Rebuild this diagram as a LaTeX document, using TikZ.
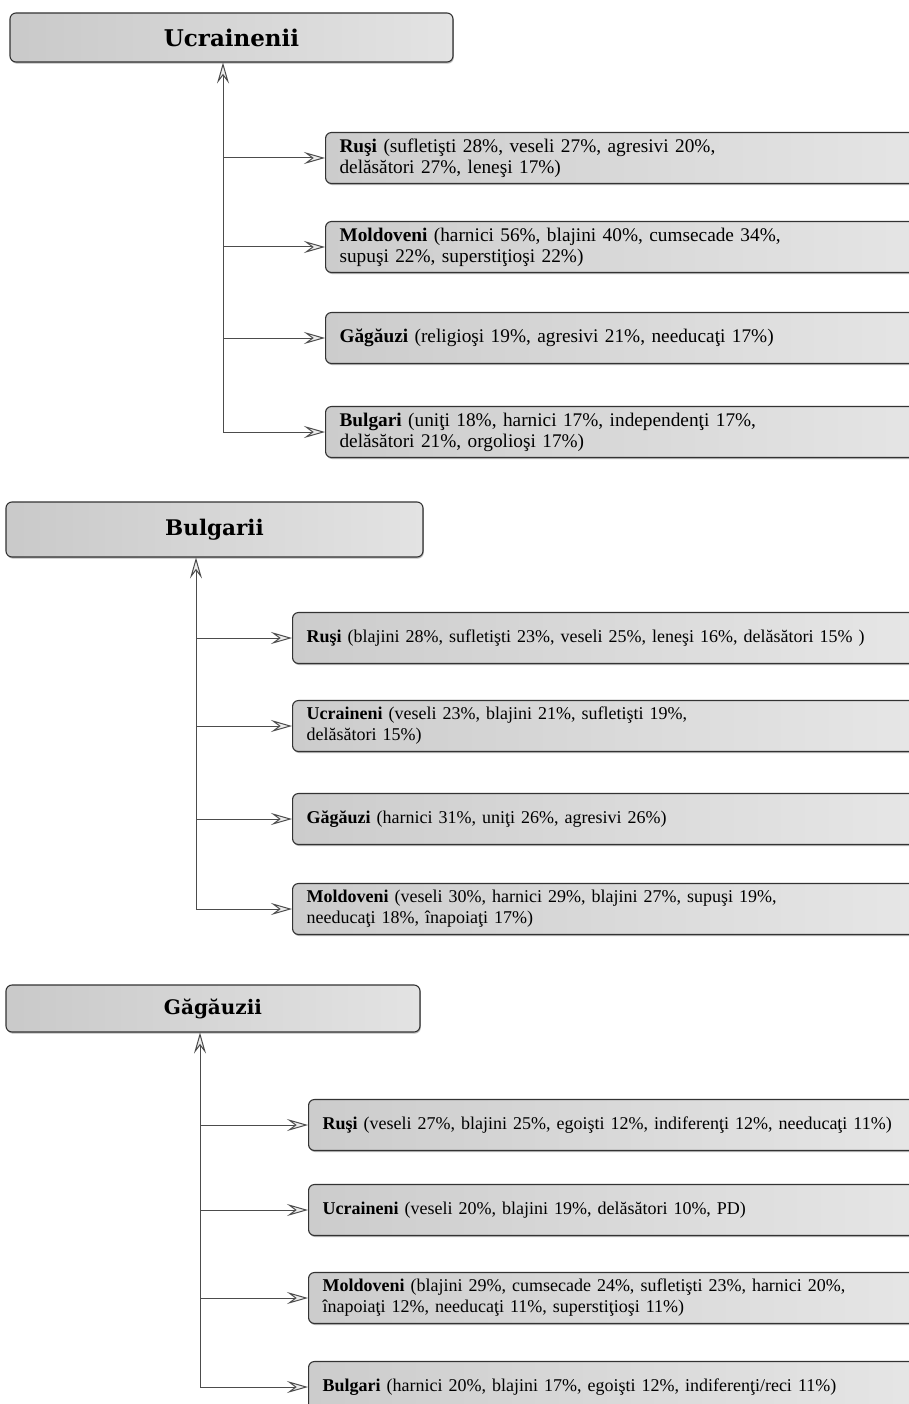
\documentclass[tikz,border=0pt]{standalone}
\usepackage{fontspec}
\setmainfont{Liberation Serif}
\newfontfamily\headfont{DejaVu Serif}
\usetikzlibrary{arrows.meta,shadows}

\begin{document}
\begin{tikzpicture}[x = 1pt, y = -1pt,
	head/.style = {draw = black!80, line width = 1.1pt, rounded corners = 6pt, left color = gray!42, right color = gray!22, inner sep = 0pt,
		font = \headfont\bfseries\fontsize{20}{24}\selectfont, drop shadow = {shadow xshift = 0.8pt, shadow yshift = -1.6pt, opacity = 0.55}},
	kind/.style = {draw = black!80, line width = 1.1pt, rounded corners = 6pt, left color = gray!40, right color = gray!18, anchor = west,
		text width = 640pt, minimum height = 51pt, inner xsep = 14pt, align = left, font = \fontsize{18}{21}\selectfont,
		drop shadow = {shadow xshift = 0.8pt, shadow yshift = -1.6pt, opacity = 0.55}},
	big/.style = {font = \fontsize{19.3}{21}\selectfont},
	link/.style = {->, draw = black!70, line width = 1pt},
	>={Stealth[length = 21pt, width = 12pt, inset = 8pt, fill = gray!15, line width = 1pt]}]
				\useasboundingbox (0,0) rectangle (909,1404);
				\clip (0,0) rectangle (909,1404);
				\node[head, minimum width = 443pt, minimum height = 49pt, font = \headfont\bfseries\fontsize{23}{26}\selectfont] (u) at (231.5,37.5) {Ucrainenii};
				\node[kind, big] (u1) at (325,158) {\textbf{Ruşi} (sufletişti 28\%, veseli 27\%, agresivi 20\%,\\delăsători 27\%, leneşi 17\%)};
				\node[kind, big] (u2) at (325,247) {\textbf{Moldoveni} (harnici 56\%, blajini 40\%, cumsecade 34\%,\\supuşi 22\%, superstiţioşi 22\%)};
				\node[kind, big] (u3) at (325,338) {\textbf{Găgăuzi} (religioşi 19\%, agresivi 21\%, needucaţi 17\%)};
				\node[kind, big] (u4) at (325,432) {\textbf{Bulgari} (uniţi 18\%, harnici 17\%, independenţi 17\%,\\delăsători 21\%, orgolioşi 17\%)};
				\coordinate (ub) at (223,432);
				\draw[link] (ub) -- (ub |- u.south);
				\draw[link] (ub |- u1) -- (u1);
				\draw[link] (ub |- u2) -- (u2);
				\draw[link] (ub |- u3) -- (u3);
				\draw[link] (ub) -- (u4);

				\node[head, minimum width = 417pt, minimum height = 55pt, font = \headfont\bfseries\fontsize{21.5}{24}\selectfont] (b) at (214.5,529.5) {Bulgarii};
				\node[kind] (b1) at (292,638) {\textbf{Ruşi} (blajini 28\%, sufletişti 23\%, veseli 25\%, leneşi 16\%, delăsători 15\% )};
				\node[kind] (b2) at (292,726) {\textbf{Ucraineni} (veseli 23\%, blajini 21\%, sufletişti 19\%,\\delăsători 15\%)};
				\node[kind] (b3) at (292,819) {\textbf{Găgăuzi} (harnici 31\%, uniţi 26\%, agresivi 26\%)};
				\node[kind] (b4) at (292,909) {\textbf{Moldoveni} (veseli 30\%, harnici 29\%, blajini 27\%, supuşi 19\%,\\needucaţi 18\%, înapoiaţi 17\%)};
				\coordinate (bb) at (196,909);
				\draw[link] (bb) -- (bb |- b.south);
				\draw[link] (bb |- b1) -- (b1);
				\draw[link] (bb |- b2) -- (b2);
				\draw[link] (bb |- b3) -- (b3);
				\draw[link] (bb) -- (b4);

				\node[head, minimum width = 414pt, minimum height = 47pt] (g) at (213,1008.5) {Găgăuzii};
				\node[kind] (g1) at (308,1125) {\textbf{Ruşi} (veseli 27\%, blajini 25\%, egoişti 12\%, indiferenţi 12\%, needucaţi 11\%)};
				\node[kind] (g2) at (308,1210) {\textbf{Ucraineni} (veseli 20\%, blajini 19\%, delăsători 10\%, PD)};
				\node[kind] (g3) at (308,1298) {\textbf{Moldoveni} (blajini 29\%, cumsecade 24\%, sufletişti 23\%, harnici 20\%,\\înapoiaţi 12\%, needucaţi 11\%, superstiţioşi 11\%)};
				\node[kind] (g4) at (308,1387) {\textbf{Bulgari} (harnici 20\%, blajini 17\%, egoişti 12\%, indiferenţi/reci 11\%)};
				\coordinate (gb) at (200,1387);
				\draw[link] (gb) -- (gb |- g.south);
				\draw[link] (gb |- g1) -- (g1);
				\draw[link] (gb |- g2) -- (g2);
				\draw[link] (gb |- g3) -- (g3);
				\draw[link] (gb) -- (g4);
			\end{tikzpicture}
\end{document}
